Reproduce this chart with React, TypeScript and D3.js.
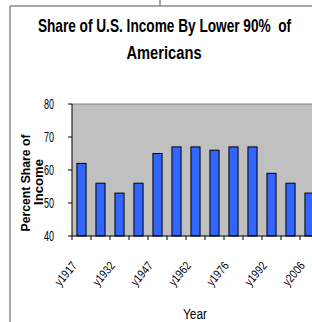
import React from "react";
import * as d3 from "d3";

// Chart data
const categories = [
  "y1917", "y1925", "y1932", "y1940", "y1947", "y1955", "y1962",
  "y1969", "y1976", "y1984", "y1992", "y1999", "y2006",
];
const shares = [62, 56, 53, 56, 65, 67, 67, 66, 67, 67, 59, 56, 53];
const yTicks = [40, 50, 60, 70, 80];

const W = 312;
const H = 322;
const plot = { left: 72, top: 104, bottom: 236, right: 319 };
// no narrow face installed, so text gets squeezed
const font = "'Liberation Sans', Arial, sans-serif";

const App: React.FC = () => {
  const x = d3
    .scaleBand<string>()
    .domain(categories)
    .range([plot.left, plot.right])
    .paddingInner(0.52)
    .paddingOuter(0.26);
  const y = d3.scaleLinear().domain([40, 80]).range([plot.bottom, plot.top]);
  const step = x.step();
  const x0 = plot.left;

  return (
    <svg
      width={W}
      height={H}
      style={{ position: "absolute", left: 0, top: 0, background: "#fff" }}
    >
      {/* frame pieces of the cropped screenshot */}
      <line x1={10} x2={10} y1={6} y2={H} stroke="#8a8a8a" strokeWidth={1.5} />
      <line x1={10} x2={W} y1={6} y2={6} stroke="#8a8a8a" strokeWidth={1.5} />
      <line x1={160} x2={160} y1={0} y2={6} stroke="#8a8a8a" strokeWidth={1.5} />

      {/* title, squeezed horizontally */}
      <g fontFamily={font} fontWeight="bold" fontSize={17.5} textAnchor="middle" fill="#000">
        <g transform="translate(164.5,32) scale(0.78,1)">
          <text x={0} y={0} style={{ whiteSpace: "pre" }}>
            {"Share of U.S. Income By Lower 90%  of"}
          </text>
        </g>
        <g transform="translate(164,59) scale(0.84,1)">
          <text x={0} y={0}>Americans</text>
        </g>
      </g>

      {/* plot area */}
      <rect
        x={plot.left}
        y={plot.top}
        width={plot.right - plot.left}
        height={plot.bottom - plot.top}
        fill="#c0c0c0"
      />
      <line x1={plot.left} x2={plot.right} y1={plot.top} y2={plot.top} stroke="#808080" />

      {/* bars */}
      {shares.map((v, i) => (
        <rect
          key={categories[i]}
          x={x(categories[i])!}
          y={y(v)}
          width={x.bandwidth()}
          height={plot.bottom - y(v)}
          fill="#3366ff"
          stroke="#000"
          strokeWidth={1}
        />
      ))}

      {/* y axis */}
      <line x1={plot.left} x2={plot.left} y1={plot.top} y2={plot.bottom} stroke="#000" />
      {yTicks.map((t) => (
        <g key={t}>
          <line x1={plot.left - 4} x2={plot.left} y1={y(t)} y2={y(t)} stroke="#000" />
          <text
            x={54}
            y={y(t)}
            dy="0.36em"
            textAnchor="end"
            fontFamily={font}
            fontSize={15}
            textLength={10}
            lengthAdjust="spacingAndGlyphs"
          >
            {t}
          </text>
        </g>
      ))}

      {/* x axis */}
      <line x1={plot.left} x2={plot.right} y1={plot.bottom} y2={plot.bottom} stroke="#000" />
      {d3.range(categories.length + 1).map((i) => (
        <line
          key={i}
          x1={x0 + i * step}
          x2={x0 + i * step}
          y1={plot.bottom}
          y2={plot.bottom + 4}
          stroke="#000"
        />
      ))}
      {categories.map((c, i) =>
        i % 2 === 0 ? (
          <text
            key={c}
            transform={`translate(${x(c)! + x.bandwidth() / 2 - 4},${266}) rotate(-50)`}
            textAnchor="end"
            fontFamily={font}
            fontSize={12}
            textLength={27}
            lengthAdjust="spacingAndGlyphs"
          >
            {c}
          </text>
        ) : null
      )}

      {/* axis titles */}
      <text
        x={195}
        y={319}
        textAnchor="middle"
        fontFamily={font}
        fontSize={14}
        textLength={24}
        lengthAdjust="spacingAndGlyphs"
      >
        Year
      </text>
      <g fontFamily={font} fontWeight="bold" fontSize={12} textAnchor="middle">
        <text transform="translate(30,183) rotate(-90)" textLength={97} lengthAdjust="spacingAndGlyphs">
          Percent Share of
        </text>
        <text transform="translate(43,182) rotate(-90)" textLength={46} lengthAdjust="spacingAndGlyphs">
          Income
        </text>
      </g>
    </svg>
  );
};

export default App;
